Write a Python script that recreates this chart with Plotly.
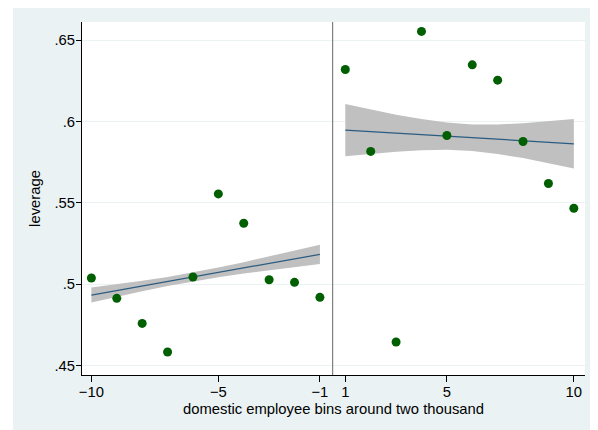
import plotly.graph_objects as go

# ---- data ----
bins_left = [-10, -9, -8, -7, -6, -5, -4, -3, -2, -1]
lev_left = [0.5039, 0.4914, 0.4760, 0.4584, 0.5045, 0.5555, 0.5375, 0.5028, 0.5012, 0.4920]
fit_left = [0.4934, 0.4962, 0.4990, 0.5017, 0.5045, 0.5073, 0.5101, 0.5129, 0.5156, 0.5184]
ci_lo_left = [0.4888, 0.4924, 0.4958, 0.4989, 0.5018, 0.5043, 0.5066, 0.5087, 0.5106, 0.5125]
ci_hi_left = [0.4980, 0.5000, 0.5022, 0.5045, 0.5072, 0.5103, 0.5136, 0.5171, 0.5206, 0.5243]

bins_right = [1, 2, 3, 4, 5, 6, 7, 8, 9, 10]
lev_right = [0.6319, 0.5816, 0.4646, 0.6553, 0.5914, 0.6348, 0.6254, 0.5877, 0.5619, 0.5467]
fit_right = [0.5947, 0.5938, 0.5928, 0.5919, 0.5910, 0.5900, 0.5891, 0.5882, 0.5872, 0.5863]
ci_lo_right = [0.5786, 0.5802, 0.5814, 0.5823, 0.5826, 0.5818, 0.5800, 0.5775, 0.5744, 0.5711]
ci_hi_right = [0.6108, 0.6074, 0.6042, 0.6015, 0.5994, 0.5982, 0.5982, 0.5989, 0.6000, 0.6015]

x_tick_labels = [-10, -5, -1, 1, 5, 10]
y_ticks = [0.45, 0.5, 0.55, 0.6, 0.65]
y_tick_text = [".45", ".5", ".55", ".6", ".65"]


def pos(b):
    # bins have no zero: -1 and 1 are adjacent on the axis
    return b if b < 0 else b - 1


CUTOFF = (pos(-1) + pos(1)) / 2

DOT = "#005f00"
FITC = "#2b5b80"
BAND = "#c0c0c0"
BG = "#eaf2f3"
FONT = "Liberation Sans, Arial, Helvetica, sans-serif"
FS = 14.8

fig = go.Figure()

for bins, lo, hi in [(bins_left, ci_lo_left, ci_hi_left), (bins_right, ci_lo_right, ci_hi_right)]:
    xs = [pos(b) for b in bins]
    fig.add_trace(go.Scatter(
        x=xs + xs[::-1], y=hi + lo[::-1], fill="toself", fillcolor=BAND,
        line=dict(width=0), mode="lines", hoverinfo="skip", showlegend=False))

for bins, fit in [(bins_left, fit_left), (bins_right, fit_right)]:
    fig.add_trace(go.Scatter(
        x=[pos(b) for b in bins], y=fit, mode="lines",
        line=dict(color=FITC, width=1.2), hoverinfo="skip", showlegend=False))

for bins, lev in [(bins_left, lev_left), (bins_right, lev_right)]:
    fig.add_trace(go.Scatter(
        x=[pos(b) for b in bins], y=lev, mode="markers",
        marker=dict(color=DOT, size=9, line=dict(width=0)),
        showlegend=False))

fig.add_shape(type="line", xref="x", yref="paper", x0=CUTOFF, x1=CUTOFF, y0=0, y1=1,
              line=dict(color="#808080", width=1.2))

# page has an 8px body margin; figure sized so the whole graph region fills the window
W, H = 590, 422
L, R, T, B = 74, 13, 14, 55
pw, ph = W - L - R, H - T - B
# white strip at the left edge of the page
fig.add_shape(type="rect", xref="paper", yref="paper", layer="below",
              x0=-L / pw, x1=(5 - L) / pw, y0=-B / ph, y1=(H - B) / ph,
              fillcolor="white", line=dict(width=0))

fig.update_layout(
    width=W, height=H,
    margin=dict(l=L, r=R, t=T, b=B),
    paper_bgcolor=BG, plot_bgcolor="white",
    font=dict(family=FONT, size=FS, color="#000000"),
    hovermode=False,
)
fig.update_xaxes(
    range=[-10.37, 9.44],
    tickvals=[pos(b) for b in x_tick_labels],
    ticktext=[("\u2212" + str(-b)) if b < 0 else str(b) for b in x_tick_labels],
    showgrid=False, zeroline=False,
    showline=True, linecolor="#000000", linewidth=1,
    ticks="outside", ticklen=6, tickcolor="#000000", tickwidth=1,
    ticklabelstandoff=-3,
    tickfont=dict(size=FS),
    title=dict(text="domestic employee bins around two thousand", font=dict(size=FS), standoff=4),
)
fig.update_yaxes(
    range=[0.4443, 0.6611],
    tickvals=y_ticks, ticktext=y_tick_text,
    showgrid=True, gridcolor=BG, gridwidth=1.2, zeroline=False,
    showline=True, linecolor="#000000", linewidth=1,
    ticks="outside", ticklen=5, tickcolor="#000000", tickwidth=1,
    ticklabelstandoff=-2,
    tickfont=dict(size=FS),
    title=dict(text="leverage", font=dict(size=FS), standoff=10),
)

fig.write_html("out.html")
